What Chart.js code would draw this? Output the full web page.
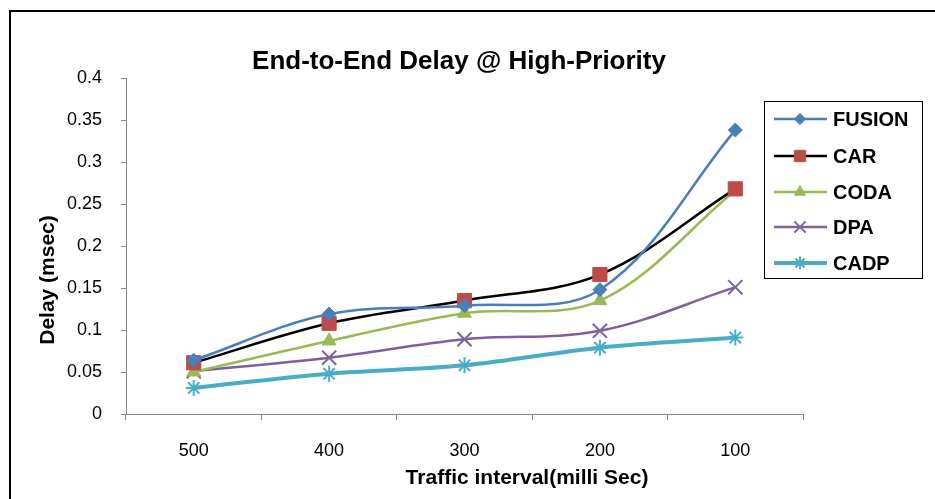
<!DOCTYPE html>
<html>
<head>
<meta charset="utf-8">
<script src="https://cdn.jsdelivr.net/npm/chart.js@4/dist/chart.umd.min.js"></script>
<style>
  html, body { margin: 0; padding: 0; background: #ffffff; }
  #wrap { width: 935px; height: 499px; }
</style>
</head>
<body>
<div id="wrap"><canvas id="c" width="935" height="499"></canvas></div>
<script>
// Traffic interval categories (milli Sec)
const categories = ['500', '400', '300', '200', '100'];

// End-to-end delay (msec) per protocol
const fusion = [0.064, 0.119, 0.129, 0.148, 0.338];
const car    = [0.061, 0.108, 0.135, 0.166, 0.268];
const coda   = [0.050, 0.087, 0.120, 0.135, 0.266];
const dpa    = [0.051, 0.067, 0.089, 0.099, 0.151];
const cadp   = [0.031, 0.048, 0.058, 0.079, 0.091];

// Value-axis tick labels
const yTicks = [0, 0.05, 0.1, 0.15, 0.2, 0.25, 0.3, 0.35, 0.4];

const titleText = 'End-to-End Delay @ High-Priority';
const xTitle = 'Traffic interval(milli Sec)';
const yTitle = 'Delay (msec)';

const FONT = '"Liberation Sans", Arial, sans-serif';

function series(label, data, line, marker, style, radius, width) {
  return {
    label, data,
    borderColor: line,
    backgroundColor: marker,
    pointBackgroundColor: marker,
    pointBorderColor: marker,
    pointBorderWidth: (style === 'crossRot' || style === 'star') ? 2 : 1,
    pointStyle: style,
    pointRadius: radius,
    pointHoverRadius: radius,
    borderWidth: width,
    tension: 0.35,
    fill: false
  };
}

const datasets = [
  series('FUSION', fusion, '#4a7ebb', '#4a7ebb', 'rectRot', 7, 2.5),
  series('CAR',    car,    '#000000', '#be4b48', 'rect',    10, 2.5),
  series('CODA',   coda,   '#98b954', '#98b954', 'triangle', 8, 2.5),
  series('DPA',    dpa,    '#7d60a0', '#7d60a0', 'crossRot', 10, 2.5),
  series('CADP',   cadp,   '#4bacc6', '#4bacc6', 'star',     8, 4)
];

// Chart frame, title, axis titles and legend box
const decorations = {
  id: 'decorations',
  afterDraw(chart) {
    const ctx = chart.ctx;
    ctx.save();

    // outer frame
    ctx.strokeStyle = '#000000';
    ctx.lineWidth = 2;
    ctx.strokeRect(10, 11, 2000, 2000);

    // title
    ctx.fillStyle = '#000000';
    ctx.textAlign = 'center';
    ctx.textBaseline = 'middle';
    ctx.font = 'bold 26px ' + FONT;
    ctx.fillText(titleText, 459, 62);

    // x-axis title
    ctx.font = 'bold 21px ' + FONT;
    ctx.fillText(xTitle, 527, 478);

    // y-axis title
    ctx.save();
    ctx.translate(48, 280);
    ctx.rotate(-Math.PI / 2);
    ctx.fillText(yTitle, 0, 0);
    ctx.restore();

    // legend
    const lx = 764, ly = 101, lw = 158, lh = 177;
    ctx.lineWidth = 1;
    ctx.strokeStyle = '#000000';
    ctx.strokeRect(lx + 0.5, ly + 0.5, lw, lh);
    const rows = [119, 156, 192, 227, 263];
    ctx.textAlign = 'left';
    ctx.font = 'bold 20px ' + FONT;
    chart.data.datasets.forEach((ds, i) => {
      const y = rows[i];
      ctx.strokeStyle = ds.borderColor;
      ctx.lineWidth = ds.borderWidth;
      ctx.beginPath();
      ctx.moveTo(774, y);
      ctx.lineTo(827, y);
      ctx.stroke();
      ctx.fillStyle = ds.pointBackgroundColor;
      ctx.strokeStyle = ds.pointBorderColor;
      ctx.lineWidth = ds.pointBorderWidth;
      Chart.helpers.drawPoint(ctx, {
        pointStyle: ds.pointStyle,
        radius: ds.pointRadius * 0.8,
        rotation: 0,
        borderWidth: ds.pointBorderWidth
      }, 800, y);
      ctx.fillStyle = '#000000';
      ctx.fillText(ds.label, 833, y + 1);
    });

    ctx.restore();
  }
};

new Chart(document.getElementById('c'), {
  type: 'line',
  data: { labels: categories, datasets },
  options: {
    responsive: false,
    animation: false,
    layout: { padding: { top: 78, right: 132, left: 0, bottom: 0 } },
    plugins: {
      legend: { display: false },
      title: { display: false },
      tooltip: { enabled: false }
    },
    scales: {
      x: {
        type: 'category',
        offset: true,
        afterFit(scale) { scale.height = 85; },
        grid: {
          offset: true,
          drawOnChartArea: false,
          drawTicks: true,
          tickLength: 6,
          color: '#868686'
        },
        border: { display: true, color: '#868686', width: 1 },
        ticks: {
          color: '#000000',
          font: { family: FONT, size: 18 },
          padding: 20,
          maxRotation: 0,
          autoSkip: false
        }
      },
      y: {
        min: 0,
        max: 0.4,
        afterFit(scale) { scale.width = 126; },
        afterBuildTicks(scale) { scale.ticks = yTicks.map(v => ({ value: v })); },
        grid: {
          drawOnChartArea: false,
          drawTicks: true,
          tickLength: 5,
          color: '#868686'
        },
        border: { display: true, color: '#868686', width: 1 },
        ticks: {
          color: '#000000',
          font: { family: FONT, size: 18 },
          padding: 19,
          callback: v => String(+v.toFixed(2))
        }
      }
    }
  },
  plugins: [decorations]
});
</script>
</body>
</html>
